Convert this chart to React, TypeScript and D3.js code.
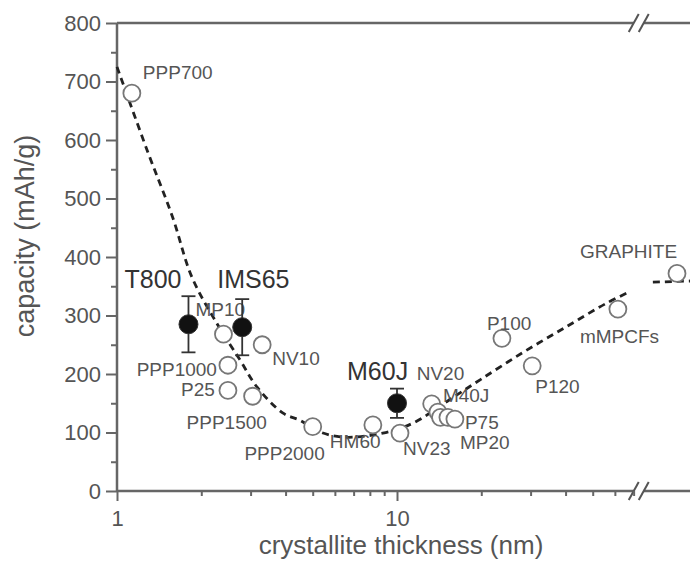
import * as d3 from 'd3';
import { useEffect, useRef } from 'react';

// open circles: fibres / carbons
const materials = ['PPP700', 'MP10', 'PPP1000', 'P25', 'PPP1500', 'NV10', 'PPP2000', 'HM60', 'NV23', 'NV20', 'M40J', '', 'P75', 'MP20', 'P100', 'P120', 'mMPCFs', 'GRAPHITE'];
const thickness = [1.13, 2.4, 2.49, 2.49, 3.05, 3.3, 5.0, 8.2, 10.25, 13.3, 14.0, 14.3, 15.2, 16.1, 23.7, 30.4, 61.5, 100];
const capacity = [680, 268, 215, 172, 162, 250, 110, 113, 99, 149, 135, 126, 126, 123, 261, 214, 311, 372];

// filled circles with error bars
const fibres = ['T800', 'IMS65', 'M60J'];
const fibreThickness = [1.8, 2.8, 10];
const fibreCapacity = [285, 280, 150];
const fibreError = [48, 48, 25];

// dashed guide line (before and after the axis break)
const guideX = [1, 1.28, 1.58, 1.85, 2.27, 2.75, 3.16, 3.92, 4.5, 5.3, 6.5, 8.9, 11.4, 15.4, 19.8, 28, 40, 56, 66];
const guideY = [725, 583, 468, 366, 287, 224, 178, 133, 121, 101, 92, 99, 116, 156, 190, 236, 280, 321, 338];
const guideTailX = [82, 112];
const guideTailY = [357, 359];

const yTicks = [0, 100, 200, 300, 400, 500, 600, 700, 800];
const xTicks = [1, 10];
const xMinor = [2, 3, 4, 5, 6, 7, 8, 9, 20, 30, 40, 50, 60, 70];
const breakAt = 73;

// label placement relative to the marker: [dx, dy, anchor]
const labelPos: [number, number, string][] = [
  [11, -14, 'start'], [-28, -18, 'start'], [-11, 11, 'end'], [-13, 6, 'end'], [-66, 33, 'start'],
  [10, 20, 'start'], [12, 33, 'end'], [-43, 23, 'start'], [3, 22, 'start'], [-15, -24, 'start'],
  [5, -10, 'start'], [0, 0, 'start'], [17, 12, 'start'], [5, 30, 'start'], [-15, -8, 'start'],
  [3, 27, 'start'], [-38, 34, 'start'], [-97, -15, 'start'],
];
const fibreLabelPos: [number, number][] = [[-64, -36], [-25, -39], [-50, -23]];

const FONT = '"Liberation Sans", Arial, Helvetica, sans-serif';

export default function App() {
  const svgRef = useRef<SVGSVGElement>(null);

  useEffect(() => {
    if (!svgRef.current) return;
    const width = 690;
    const height = 566;
    const left = 117;
    const top = 23;
    const bottom = 491;

    const svg = d3.select(svgRef.current);
    svg.selectAll('*').remove();
    svg.attr('width', width).attr('height', height);

    const x = d3.scaleLog().domain([1, 10]).range([left, 397]);
    const y = d3.scaleLinear().domain([0, 800]).range([bottom, top]);
    const axisColor = '#666';
    const textColor = '#555';

    // frame: left, bottom, top
    const frame = svg.append('g').attr('stroke', axisColor).attr('stroke-width', 2.5);
    frame.append('line').attr('x1', left).attr('x2', left).attr('y1', top).attr('y2', bottom + 1);
    frame.append('line').attr('x1', left).attr('x2', width).attr('y1', bottom).attr('y2', bottom);
    frame.append('line').attr('x1', left).attr('x2', width).attr('y1', top).attr('y2', top);

    // axis break marks
    const bx = x(breakAt);
    [top, bottom].forEach((yy) => {
      svg.append('rect').attr('x', bx - 5).attr('y', yy - 3).attr('width', 10).attr('height', 6).attr('fill', '#fff');
      [-5, 5].forEach((o) => {
        svg.append('line')
          .attr('x1', bx + o - 5).attr('y1', yy + 9)
          .attr('x2', bx + o + 5).attr('y2', yy - 9)
          .attr('stroke', '#555').attr('stroke-width', 2);
      });
    });

    // Y axis
    const yAxis = svg.append('g').attr('transform', `translate(${left},0)`)
      .call(d3.axisLeft(y).tickValues(yTicks).tickSize(11).tickPadding(5).tickFormat(d3.format('d')));
    yAxis.select('.domain').remove();
    const yMinor = svg.append('g').attr('transform', `translate(${left},0)`)
      .call(d3.axisLeft(y).tickValues(yTicks.slice(1).map((t) => t - 50)).tickSize(6).tickFormat(() => ''));
    yMinor.select('.domain').remove();

    // X axis
    const xAxis = svg.append('g').attr('transform', `translate(0,${bottom})`)
      .call(d3.axisBottom(x).tickValues(xTicks).tickSize(10).tickPadding(9).tickFormat(d3.format('d')));
    xAxis.select('.domain').remove();
    const xMinorAxis = svg.append('g').attr('transform', `translate(0,${bottom})`)
      .call(d3.axisBottom(x).tickValues(xMinor).tickSize(5).tickFormat(() => ''));
    xMinorAxis.select('.domain').remove();

    svg.selectAll('.tick line').attr('stroke', axisColor).attr('stroke-width', 2);
    svg.selectAll('.tick text').attr('fill', textColor).style('font-size', '22px').style('font-family', FONT);

    // axis titles
    svg.append('text')
      .attr('x', 401).attr('y', 554).attr('text-anchor', 'middle')
      .attr('fill', textColor).style('font-size', '26px').style('font-family', FONT)
      .text('crystallite thickness (nm)');
    svg.append('text')
      .attr('transform', `translate(34,236) rotate(-90)`).attr('text-anchor', 'middle')
      .attr('fill', textColor).style('font-size', '27px').style('font-family', FONT)
      .text('capacity (mAh/g)');

    // dashed guide
    const line = d3.line<number>()
      .x((_, i) => x(guideX[i]))
      .y((d) => y(d))
      .curve(d3.curveCatmullRom.alpha(0.5));
    const tail = d3.line<number>()
      .x((_, i) => x(guideTailX[i]))
      .y((d) => y(d));
    svg.append('path').attr('d', line(guideY)).attr('fill', 'none')
      .attr('stroke', '#222').attr('stroke-width', 2.8).attr('stroke-dasharray', '7,5');
    svg.append('path').attr('d', tail(guideTailY)).attr('fill', 'none')
      .attr('stroke', '#222').attr('stroke-width', 2.8).attr('stroke-dasharray', '7,5');

    // open markers
    const pts = materials.map((m, i) => ({ m, t: thickness[i], c: capacity[i], p: labelPos[i] }));
    svg.append('g').selectAll('circle').data(pts).join('circle')
      .attr('cx', (d) => x(d.t)).attr('cy', (d) => y(d.c)).attr('r', 8.5)
      .attr('fill', '#fff').attr('stroke', '#777').attr('stroke-width', 1.8);
    svg.append('g').selectAll('text').data(pts.filter((d) => d.m)).join('text')
      .attr('x', (d) => x(d.t) + d.p[0]).attr('y', (d) => y(d.c) + d.p[1])
      .attr('text-anchor', (d) => d.p[2])
      .attr('fill', textColor).style('font-size', '19px').style('font-family', FONT)
      .text((d) => d.m);

    // filled markers with error bars
    const fb = fibres.map((f, i) => ({ f, t: fibreThickness[i], c: fibreCapacity[i], e: fibreError[i], p: fibreLabelPos[i] }));
    const eg = svg.append('g').attr('stroke', '#333').attr('stroke-width', 1.8);
    fb.forEach((d) => {
      const cx = x(d.t);
      eg.append('line').attr('x1', cx).attr('x2', cx).attr('y1', y(d.c + d.e)).attr('y2', y(d.c - d.e));
      [d.c + d.e, d.c - d.e].forEach((v) => {
        eg.append('line').attr('x1', cx - 7).attr('x2', cx + 7).attr('y1', y(v)).attr('y2', y(v));
      });
    });
    svg.append('g').selectAll('circle').data(fb).join('circle')
      .attr('cx', (d) => x(d.t)).attr('cy', (d) => y(d.c)).attr('r', 9.5)
      .attr('fill', '#111').attr('stroke', '#333').attr('stroke-width', 1);
    svg.append('g').selectAll('text').data(fb).join('text')
      .attr('x', (d) => x(d.t) + d.p[0]).attr('y', (d) => y(d.c) + d.p[1])
      .attr('fill', '#333').style('font-size', '25px').style('font-family', FONT)
      .text((d) => d.f);
  }, []);

  return <svg ref={svgRef} style={{ position: 'absolute', left: 0, top: 0, background: '#fff' }} />;
}
